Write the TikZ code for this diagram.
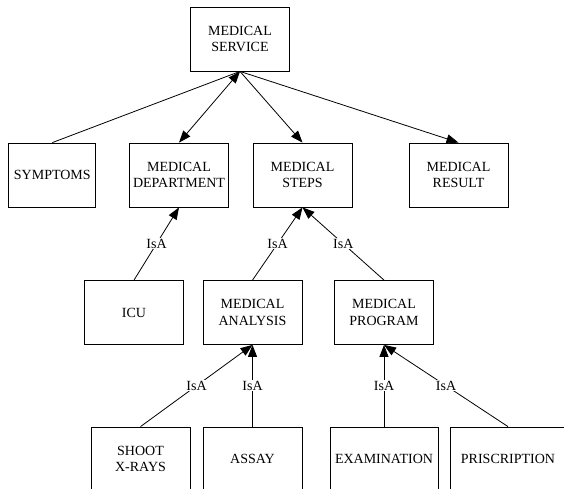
\documentclass[tikz,border=0pt]{standalone}
\usepackage{fontspec}
\setmainfont{Liberation Serif}
\usetikzlibrary{arrows.meta}
\begin{document}
\begin{tikzpicture}[x=1pt,y=-1pt,
  box/.style={draw=black, line width=0.8pt, minimum width=99pt, minimum height=64pt,
    inner sep=0pt, align=center, font=\fontsize{14}{16.5}\selectfont},
  link/.style={line width=0.8pt, -{Triangle[length=12pt,width=9pt]}},
  both/.style={line width=0.8pt, {Triangle[length=12pt,width=9pt]}-{Triangle[length=12pt,width=9pt]}},
  plain/.style={line width=0.8pt},
  lbl/.style={fill=white, inner sep=1pt, font=\fontsize{14}{16.5}\selectfont}]
\useasboundingbox (0,0) rectangle (564,488);

% top concept
\node[box] (service) at (240,39) {MEDICAL\\SERVICE};

% second row
\node[box, minimum width=87pt] (symptoms) at (52.3,175) {SYMPTOMS};
\node[box] (dept) at (179,175) {MEDICAL\\DEPARTMENT};
\node[box] (steps) at (302.5,175) {MEDICAL\\STEPS};
\node[box] (result) at (458.5,175) {MEDICAL\\RESULT};

% third row
\node[box] (icu) at (134,312.5) {ICU};
\node[box] (analysis) at (252.5,312.5) {MEDICAL\\ANALYSIS};
\node[box] (program) at (384,312.5) {MEDICAL\\PROGRAM};

% fourth row
\node[box] (xrays) at (140.5,459) {SHOOT\\X-RAYS};
\node[box] (assay) at (252.5,459) {ASSAY};
\node[box, minimum width=108pt] (exam) at (384,459) {EXAMINATION};
\node[box, minimum width=116pt] (prescr) at (508,459) {PRISCRIPTION};

% links from the top concept
\draw[plain] (symptoms.north) -- (service.south);
\draw[both] (service.south) -- (dept.north);
\draw[link] (service.south) -- (steps.north);
\draw[link] (service.south) -- (result.north);

% IsA links
\draw[link] (icu.north) -- node[lbl]{IsA} (dept.south);
\draw[link] (analysis.north) -- node[lbl]{IsA} (steps.south);
\draw[link] (program.north) -- node[lbl]{IsA} (steps.south);
\draw[link] (xrays.north) -- node[lbl]{IsA} (analysis.south);
\draw[link] (assay.north) -- node[lbl]{IsA} (analysis.south);
\draw[link] (exam.north) -- node[lbl]{IsA} (program.south);
\draw[link] (prescr.north) -- node[lbl]{IsA} (program.south);
\end{tikzpicture}
\end{document}
